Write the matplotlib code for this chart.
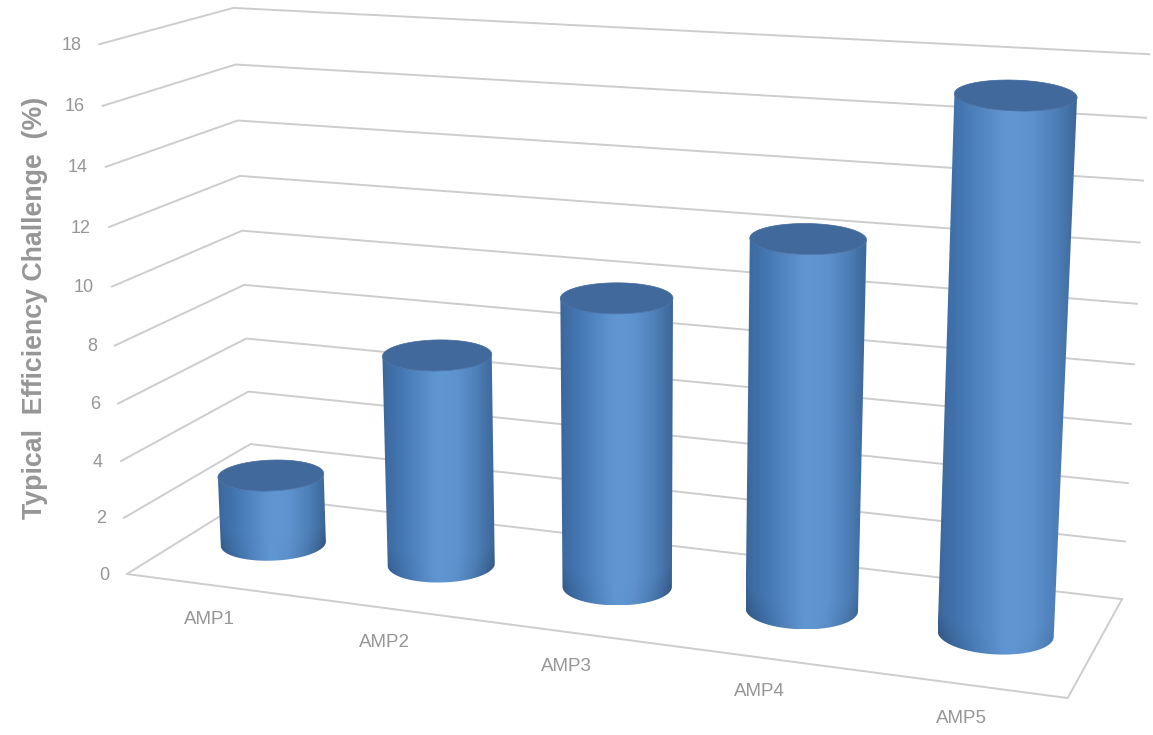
import matplotlib
matplotlib.use("Agg")
import matplotlib.pyplot as plt
from matplotlib.colors import LinearSegmentedColormap
from matplotlib.patches import Polygon
import numpy as np

categories = ["AMP1", "AMP2", "AMP3", "AMP4", "AMP5"]
values = [2.5, 7.4, 9.9, 12.35, 17.25]
z_ticks = [0, 2, 4, 6, 8, 10, 12, 14, 16, 18]
y_title = "Typical  Efficiency Challenge  (%)"

GRID = "#cdcdcd"
TEXT = "#969696"
TOP = "#42699c"
side_cmap = LinearSegmentedColormap.from_list(
    "side", ["#3c679c", "#4477b2", "#5488c4", "#6097d3", "#5e92ce", "#4f81ba", "#3c6798"])

# camera calibration: chart coords (x, depth, z) -> picture pixels
calib = [
    (0, 0, 0, 128, 573), (5, 0, 0, 1068, 697), (5, 1, 0, 1120, 598), (0, 1, 0, 253, 496),
    (0, 0, 18, 99, 44), (0, 1, 18, 233, 8), (5, 1, 18, 1147, 55),
    (0, 1, 10, 243, 230), (5, 1, 10, 1141, 303), (0, 0, 10, 112, 287),
    (0.5, 0.5, 0, 272, 544), (1.5, 0.5, 0, 440, 565), (2.5, 0.5, 0, 617, 587),
    (3.5, 0.5, 0, 803, 610), (4.5, 0.5, 0, 995, 635),
]


def fit_camera(pts):
    A, b = [], []
    for X, Y, Z, u, v in pts:
        A.append([X, Y, Z, 1, 0, 0, 0, 0, -u * X, -u * Y, -u * Z])
        A.append([0, 0, 0, 0, X, Y, Z, 1, -v * X, -v * Y, -v * Z])
        b += [u, v]
    p = np.linalg.lstsq(np.array(A, float), np.array(b, float), rcond=None)[0]
    return np.append(p, 1).reshape(3, 4)


CAM = fit_camera(calib)


def project(x, y, z):
    x, y, z = np.broadcast_arrays(x, y, z)
    h = CAM @ np.vstack([x.ravel(), y.ravel(), z.ravel(), np.ones(x.size)])
    return h[0] / h[2], h[1] / h[2]


def front_arc(ux, uy):
    i, j = np.argmin(ux), np.argmax(ux)
    a = np.roll(np.arange(len(ux)), -i)
    k = np.where(a == j)[0][0]
    arc1, arc2 = a[: k + 1], np.append(a[k:], i)[::-1]
    return arc1 if uy[arc1].mean() > uy[arc2].mean() else arc2


def draw_cylinder(ax, xc, height, rx=0.285, ry=0.2, cap_h=31):
    theta = np.linspace(0, 2 * np.pi, 241)
    cx = xc + rx * np.cos(theta)
    cy = 0.5 + ry * np.sin(theta)
    ux0, uy0 = project(cx, cy, 0)
    ux1, uy1 = project(cx, cy, height)
    # the source keeps the cap ellipse open even high up, no true perspective there
    mid = (uy1.max() + uy1.min()) / 2
    uy1 = mid + (uy1 - mid) * cap_h / (uy1.max() - uy1.min())

    a1 = front_arc(ux1, uy1)
    a0 = front_arc(ux0, uy0)
    body = np.vstack([np.c_[ux1[a1], uy1[a1]], np.c_[ux0[a0], uy0[a0]][::-1]])
    left, right = body[:, 0].min(), body[:, 0].max()
    low, high = body[:, 1].max(), body[:, 1].min()

    patch = Polygon(body, closed=True, fc="none", ec="none", transform=ax.transData)
    ax.add_patch(patch)

    # side shading, darker towards the lower corners
    w, h = 200, int(low - high) + 1
    t = np.linspace(0, 1, w)
    rgb = side_cmap(t)[:, :3][None, :, :].repeat(h, axis=0)
    rows = np.linspace(high, low, h)[:, None]
    xs = left + t * (right - left)
    order = np.argsort(ux0[a0])
    edge = np.interp(xs, ux0[a0][order], uy0[a0][order])
    near = np.clip(1 - (edge - rows) / 26, 0, 1)
    corner = np.abs(2 * t - 1) ** 1.5
    rgb = rgb * (1 - 0.14 * near * corner)[:, :, None]
    im = ax.imshow(rgb, extent=[left, right, low, high], aspect="auto", zorder=3)
    im.set_clip_path(patch)
    ax.fill(ux1, uy1, color=TOP, lw=0.5, zorder=4)


fig = plt.figure(figsize=(11.53, 7.35), dpi=100)
ax = fig.add_axes([0, 0, 1, 1])
ax.axis("off")
plt.rcParams["font.family"] = ["Liberation Sans", "DejaVu Sans"]

for z in z_ticks:
    ux, uy = project([0, 0, 5], [0, 1, 1], z)
    ax.plot(ux, uy, color=GRID, lw=1.4, zorder=1, solid_joinstyle="miter")
    ax.text(ux[0] - 18, uy[0] + 1, str(z), ha="right", va="center", fontsize=13, color=TEXT)

ux, uy = project([0, 5, 5], [0, 0, 1], 0)
ax.plot(ux, uy, color=GRID, lw=1.4, zorder=1, solid_joinstyle="miter")

for i, (name, val) in enumerate(zip(categories, values)):
    draw_cylinder(ax, i + 0.5, val)
    lx, ly = project(i + 0.5, 0, 0)
    ax.text(lx[0] - 1, ly[0] + 34, name, ha="center", va="center", fontsize=13.5, color=TEXT)

ax.text(35, 308, y_title, rotation=90, ha="center", va="center",
        fontsize=19.3, fontweight="bold", color=TEXT)

ax.set_xlim(0, 1153)
ax.set_ylim(735, 0)
fig.savefig("out.png", dpi=100)
